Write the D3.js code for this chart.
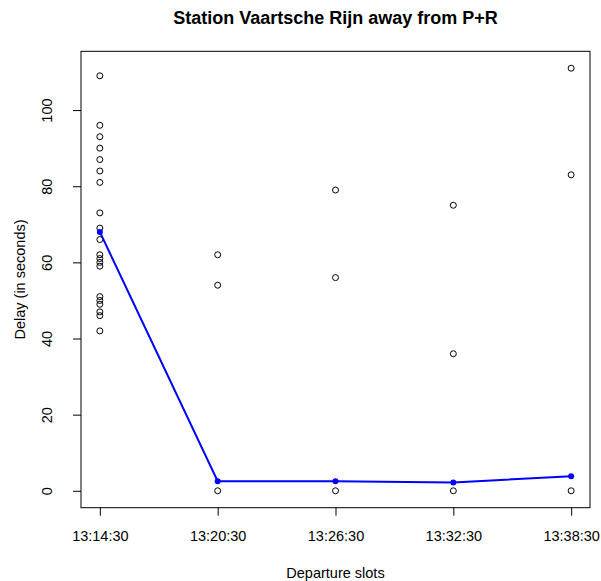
<!DOCTYPE html>
<html>
<head>
<meta charset="utf-8">
<script src="https://cdn.jsdelivr.net/npm/d3@7"></script>
<style>
  html, body { margin: 0; padding: 0; background: #fff; }
  svg { display: block; }
  text { font-family: "Liberation Sans", Arial, sans-serif; fill: #000; }
</style>
</head>
<body>
<svg id="chart" width="601" height="581"></svg>
<script>
// ---- data ----
const slots = ["13:14:30", "13:20:30", "13:26:30", "13:32:30", "13:38:30"];
const delays0 = [109, 96, 93, 90, 87, 84, 81, 73, 69, 66, 62, 61, 60, 59, 51, 50, 49, 47, 46, 42];
const delays1 = [62, 54, 0];
const delays2 = [79, 56, 0];
const delays3 = [75, 36, 0];
const delays4 = [111, 83, 0];
const lineValues = [68, 2.5, 2.5, 2.2, 3.8];
const yTicks = [0, 20, 40, 60, 80, 100];
const titleText = "Station Vaartsche Rijn away from P+R";
const xLabel = "Departure slots";
const yLabel = "Delay (in seconds)";

const delaysBySlot = [delays0, delays1, delays2, delays3, delays4];
const points = [];
delaysBySlot.forEach((arr, i) => arr.forEach(v => points.push({ i, v })));

// ---- layout ----
const box = { left: 81, right: 590, top: 51.3, bottom: 507.7 };
const svg = d3.select("#chart");
const FS = 14.5;

const x = d3.scaleLinear().domain([-0.16, 4.16]).range([box.left, box.right]);
const y = d3.scaleLinear().domain([-4.44, 115.44]).range([box.bottom, box.top]);

// box
svg.append("rect")
  .attr("x", box.left).attr("y", box.top)
  .attr("width", box.right - box.left).attr("height", box.bottom - box.top)
  .attr("fill", "none").attr("stroke", "#000").attr("stroke-width", 1);

// x axis
const xAxis = d3.axisBottom(x)
  .tickValues(slots.map((d, i) => i))
  .tickFormat(i => slots[i])
  .tickSize(8).tickPadding(15);
const gx = svg.append("g").attr("transform", `translate(0,${box.bottom})`).call(xAxis);
gx.select(".domain").remove();
gx.selectAll("text").attr("font-size", FS).attr("font-family", "Liberation Sans, Arial, sans-serif").attr("fill", "#000");
gx.selectAll("line").attr("stroke", "#000");

// y axis
const yAxis = d3.axisLeft(y).tickValues(yTicks).tickSize(8).tickPadding(0).tickFormat(d3.format("d"));
const gy = svg.append("g").attr("transform", `translate(${box.left},0)`).call(yAxis);
gy.select(".domain").remove();
gy.selectAll("line").attr("stroke", "#000");
gy.selectAll("text")
  .attr("font-size", FS).attr("font-family", "Liberation Sans, Arial, sans-serif").attr("fill", "#000")
  .attr("x", null).attr("dy", null)
  .attr("text-anchor", "middle")
  .attr("transform", "translate(-29,0) rotate(-90)")
  .attr("y", 0);

// points
svg.append("g").selectAll("circle").data(points).join("circle")
  .attr("cx", d => x(d.i)).attr("cy", d => y(d.v)).attr("r", 3)
  .attr("fill", "none").attr("stroke", "#000").attr("stroke-width", 1);

// blue line
const line = d3.line().x((d, i) => x(i)).y(d => y(d));
svg.append("path").datum(lineValues).attr("d", line)
  .attr("fill", "none").attr("stroke", "#0000ff").attr("stroke-width", 2);
svg.append("g").selectAll("circle").data(lineValues).join("circle")
  .attr("cx", (d, i) => x(i)).attr("cy", d => y(d)).attr("r", 3)
  .attr("fill", "#0000ff");

// title & labels
svg.append("text").attr("x", (box.left + box.right) / 2).attr("y", 24)
  .attr("text-anchor", "middle").attr("font-size", 18).attr("font-weight", "bold").text(titleText);
svg.append("text").attr("x", (box.left + box.right) / 2).attr("y", 578)
  .attr("text-anchor", "middle").attr("font-size", FS).text(xLabel);
svg.append("text")
  .attr("transform", `translate(25,${(box.top + box.bottom) / 2}) rotate(-90)`)
  .attr("text-anchor", "middle").attr("font-size", FS).text(yLabel);
</script>
</body>
</html>
